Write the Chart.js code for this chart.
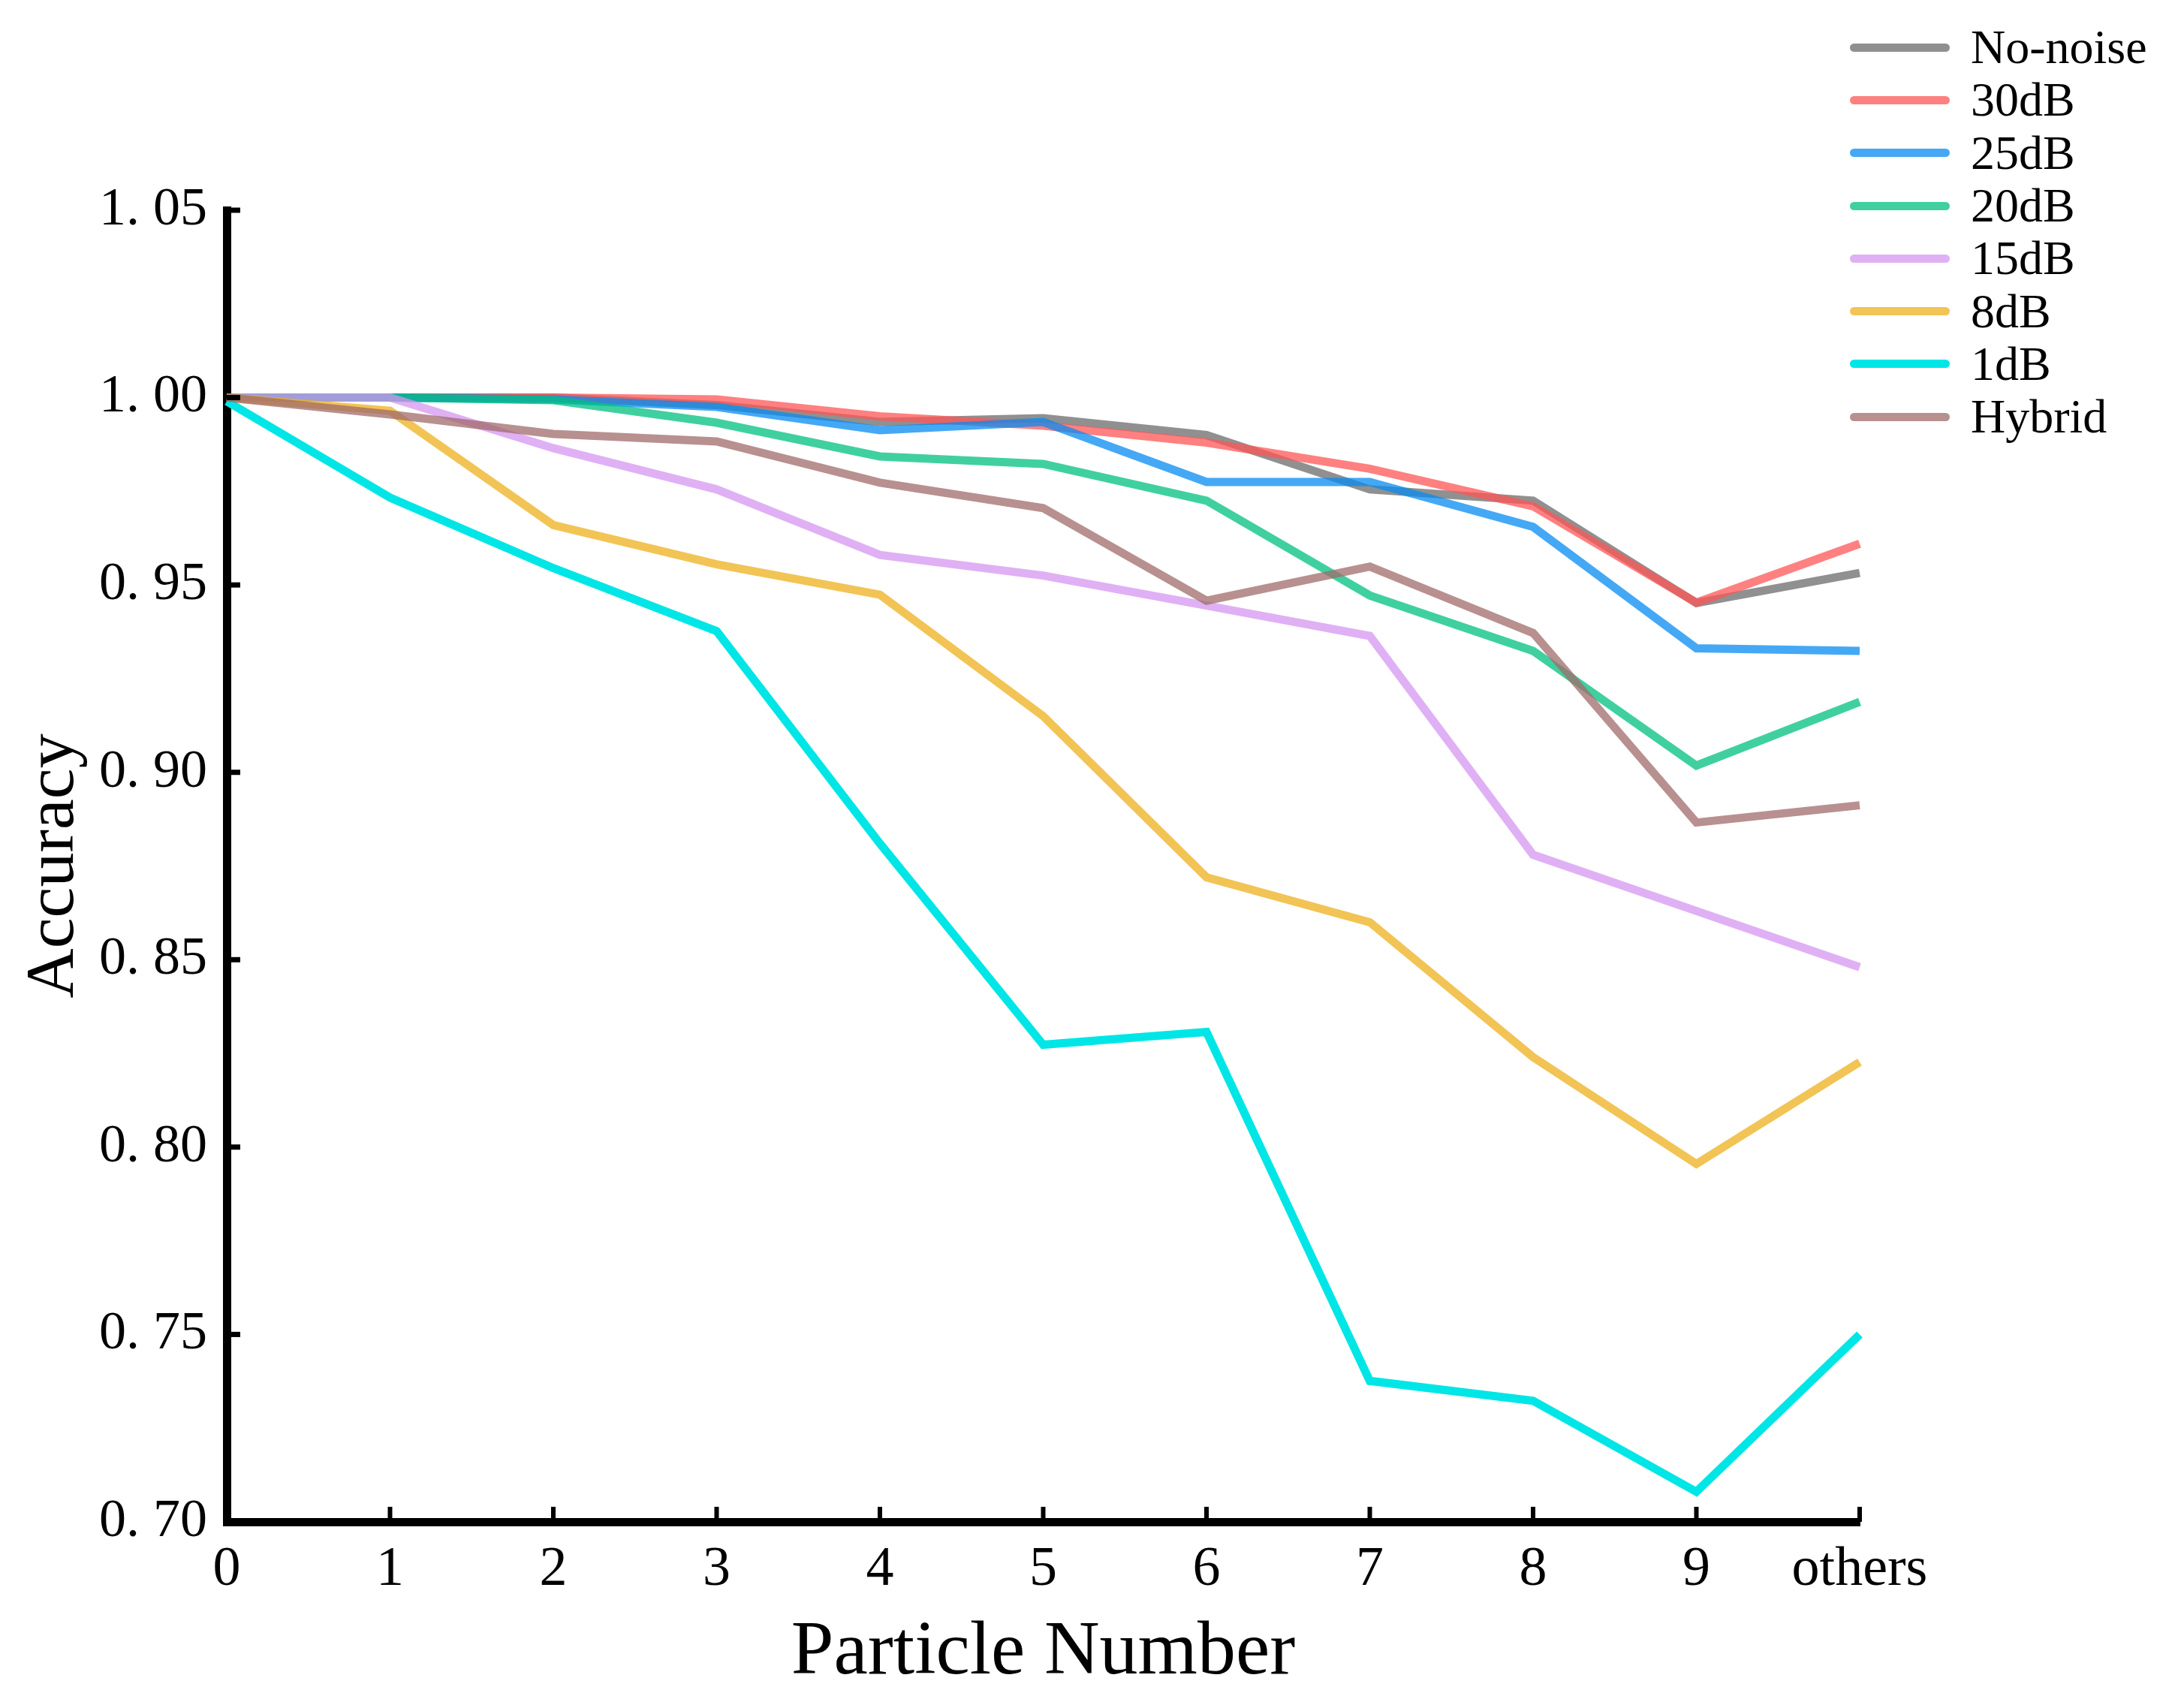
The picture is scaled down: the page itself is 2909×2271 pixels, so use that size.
<!DOCTYPE html>
<html>
<head>
<meta charset="utf-8">
<script src="https://cdn.jsdelivr.net/npm/chart.js@4.4.1/dist/chart.umd.min.js"></script>
<style>
  html, body { margin: 0; padding: 0; background: #fff; }
  #wrap { position: relative; width: 2909px; height: 2271px; }
  #legend { position: absolute; left: 2464px; top: 28px; font-family: "Liberation Serif", serif; font-size: 64px; color: #000; }
  .row { display: flex; align-items: center; height: 70.3px; }
  .swatch { width: 133px; height: 11px; border-radius: 6px; margin-right: 28px; }
</style>
</head>
<body>
<div id="wrap">
  <canvas id="c" width="2909" height="2271"></canvas>
  <div id="legend"></div>
</div>
<script>
const categories = ['0','1','2','3','4','5','6','7','8','9','others'];
const yTickLabels = ['0. 70','0. 75','0. 80','0. 85','0. 90','0. 95','1. 00','1. 05'];

const seriesNames = ['No-noise','30dB','25dB','20dB','15dB','8dB','1dB','Hybrid'];
const noNoise = [1.000, 1.000, 1.000, 0.998, 0.9935, 0.9945, 0.990, 0.9755, 0.9725, 0.9452, 0.9532];
const db30    = [1.000, 1.000, 1.000, 0.9995, 0.995, 0.9925, 0.988, 0.981, 0.971, 0.9453, 0.961];
const db25    = [1.000, 1.000, 0.9995, 0.9975, 0.9913, 0.9935, 0.9775, 0.9775, 0.9655, 0.9331, 0.9324];
const db20    = [1.000, 1.000, 0.9993, 0.9933, 0.9843, 0.9823, 0.9725, 0.9472, 0.9324, 0.9018, 0.9188];
const db15    = [1.000, 1.000, 0.9865, 0.9755, 0.958, 0.9525, 0.9445, 0.9364, 0.878, 0.863, 0.848];
const db8     = [1.000, 0.9965, 0.966, 0.9555, 0.9474, 0.915, 0.872, 0.860, 0.824, 0.7955, 0.8227];
const db1     = [0.999, 0.9733, 0.9545, 0.9377, 0.881, 0.8273, 0.8307, 0.7376, 0.7323, 0.708, 0.750];
const hybrid  = [1.000, 0.9955, 0.9903, 0.9883, 0.9773, 0.9705, 0.9458, 0.9549, 0.9372, 0.8866, 0.8912];

const seriesValues = [noNoise, db30, db25, db20, db15, db8, db1, hybrid];
const lineColors = [
  'rgba(107,107,107,0.75)',
  'rgba(255,86,86,0.75)',
  'rgba(7,139,242,0.75)',
  'rgba(0,192,128,0.75)',
  'rgba(214,150,242,0.75)',
  'rgba(238,176,28,0.75)',
  'rgba(0,230,230,1)',
  'rgba(160,107,107,0.75)'
];

const FONT = '"Liberation Serif", "DejaVu Serif", serif';

const datasets = seriesNames.map((name, i) => ({
  label: name,
  data: seriesValues[i],
  borderColor: lineColors[i],
  backgroundColor: lineColors[i],
  borderWidth: 11,
  pointRadius: 0,
  tension: 0,
  fill: false,
  borderJoinStyle: 'miter',
  order: seriesNames.length - 1 - i
}));

const innerTicks = {
  id: 'innerTicks',
  afterDraw(chart) {
    const ctx = chart.ctx;
    const xs = chart.scales.x, ys = chart.scales.y;
    const area = chart.chartArea;
    ctx.save();
    ctx.strokeStyle = '#000';
    ctx.lineWidth = 6;
    xs.ticks.forEach((t, i) => {
      const px = xs.getPixelForTick(i);
      ctx.beginPath();
      ctx.moveTo(px, area.bottom);
      ctx.lineTo(px, area.bottom - 20);
      ctx.stroke();
    });
    ctx.lineWidth = 7;
    ys.ticks.forEach((t, i) => {
      const py = ys.getPixelForTick(i);
      ctx.beginPath();
      ctx.moveTo(area.left, py);
      ctx.lineTo(area.left + 18, py);
      ctx.stroke();
    });
    ctx.restore();
  }
};

new Chart(document.getElementById('c'), {
  type: 'line',
  data: { labels: categories, datasets },
  options: {
    responsive: false,
    devicePixelRatio: 1,
    animation: false,
    layout: { padding: { top: 280, right: 432, left: 0, bottom: 0 } },
    plugins: { legend: { display: false }, tooltip: { enabled: false } },
    scales: {
      x: {
        type: 'category',
        offset: false,
        grid: { display: false, drawTicks: false },
        border: { display: true, color: '#000', width: 11 },
        ticks: { color: '#000', font: { family: FONT, size: 74 }, padding: 20, maxRotation: 0, autoSkip: false },
        title: { display: true, text: 'Particle Number', color: '#000', font: { family: FONT, size: 102 }, padding: { top: 0, bottom: 8 } },
        afterFit(s) { s.height = 244; }
      },
      y: {
        min: 0.70, max: 1.05,
        grid: { display: false, drawTicks: false },
        border: { display: true, color: '#000', width: 11 },
        ticks: {
          stepSize: 0.05, color: '#000', font: { family: FONT, size: 72 }, padding: 26,
          callback: (v) => yTickLabels[Math.round((v - 0.70) / 0.05)]
        },
        title: { display: true, text: 'Accuracy', color: '#000', font: { family: FONT, size: 92 }, padding: { top: 18, bottom: 0 } },
        afterFit(s) { s.width = 302; }
      }
    }
  },
  plugins: [innerTicks]
});

const legend = document.getElementById('legend');
seriesNames.forEach((name, i) => {
  const row = document.createElement('div');
  row.className = 'row';
  const sw = document.createElement('div');
  sw.className = 'swatch';
  sw.style.background = lineColors[i];
  const tx = document.createElement('span');
  tx.textContent = name;
  row.appendChild(sw);
  row.appendChild(tx);
  legend.appendChild(row);
});
</script>
</body>
</html>
